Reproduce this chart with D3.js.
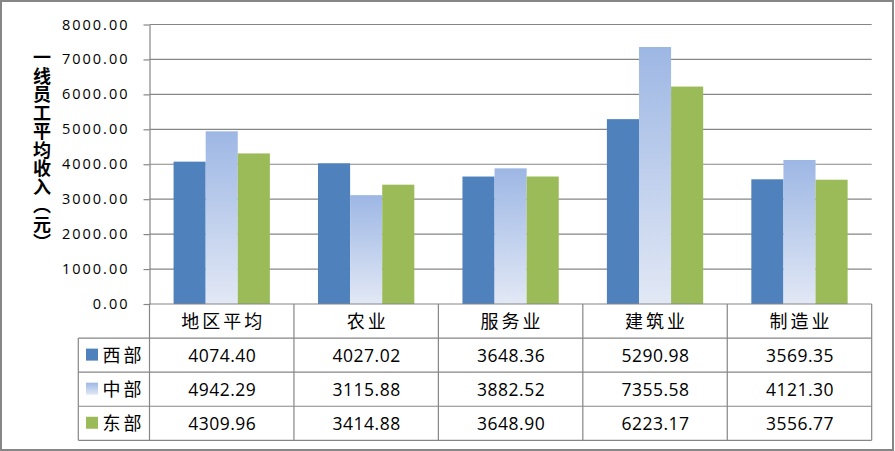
<!DOCTYPE html>
<html>
<head>
<meta charset="utf-8">
<script src="https://cdn.jsdelivr.net/npm/d3@7"></script>
<style>
  html, body { margin: 0; padding: 0; background: #fff; }
  svg { display: block; }
</style>
</head>
<body>
<script>
const categories = ["地区平均", "农业", "服务业", "建筑业", "制造业"];
const seriesNames = ["西部", "中部", "东部"];
const westValues = [4074.40, 4027.02, 3648.36, 5290.98, 3569.35];
const centralValues = [4942.29, 3115.88, 3882.52, 7355.58, 4121.30];
const eastValues = [4309.96, 3414.88, 3648.90, 6223.17, 3556.77];
const yTickValues = [0, 1000, 2000, 3000, 4000, 5000, 6000, 7000, 8000];
const yTitle = "一线员工平均收入（元）";

const seriesValues = [westValues, centralValues, eastValues];
const W = 895, H = 451;
const plotL = 149.5, plotR = 871.7, plotT = 24.5, plotB = 304, tableB = 440.3;
const gray = "#868686";
const numFont = "'Open Sans', 'Liberation Sans', sans-serif";
const cjkFont = "'Noto Sans CJK SC', sans-serif";

const svg = d3.select("body").append("svg").attr("width", W).attr("height", H);

const defs = svg.append("defs");
const grad = defs.append("linearGradient").attr("id", "midGrad")
  .attr("x1", 0).attr("y1", 0).attr("x2", 0).attr("y2", 1);
grad.append("stop").attr("offset", "0%").attr("stop-color", "#9db7e4");
grad.append("stop").attr("offset", "100%").attr("stop-color", "#e2e8f5");
const fills = ["#4f81bd", "url(#midGrad)", "#9bbb59"];

// outer border
svg.append("rect").attr("x", 1).attr("y", 1).attr("width", W - 3).attr("height", H - 2)
  .attr("fill", "#fff").attr("stroke", gray).attr("stroke-width", 2);

const x = d3.scaleBand().domain(categories).range([plotL, plotR]).paddingInner(0).paddingOuter(0);
const bw = x.bandwidth();
const xs = d3.scaleBand().domain(seriesNames).range([bw / 6, bw * 5 / 6]).padding(0);
const y = d3.scaleLinear().domain([0, 8000]).range([plotB, plotT]);

// gridlines
svg.append("g").selectAll("line").data(yTickValues.filter(d => d > 0)).join("line")
  .attr("x1", plotL).attr("x2", plotR)
  .attr("y1", d => y(d)).attr("y2", d => y(d))
  .attr("stroke", gray).attr("stroke-width", 1.2);

// bars
const groups = svg.append("g").selectAll("g").data(seriesNames).join("g");
groups.selectAll("rect")
  .data((s, i) => categories.map((c, j) => ({ c, s, v: seriesValues[i][j], i })))
  .join("rect")
  .attr("x", d => x(d.c) + xs(d.s))
  .attr("width", xs.bandwidth())
  .attr("y", d => y(d.v))
  .attr("height", d => y(0) - y(d.v))
  .attr("fill", d => fills[d.i]);

// y axis
const yAxis = d3.axisLeft(y).tickValues(yTickValues).tickFormat(d3.format(".2f"))
  .tickSize(6).tickSizeOuter(0).tickPadding(14);
const ag = svg.append("g").attr("transform", `translate(${plotL},0)`).call(yAxis);
ag.select(".domain").attr("stroke", gray).attr("stroke-width", 1.2);
ag.selectAll(".tick line").attr("stroke", gray).attr("stroke-width", 1.2);
ag.selectAll(".tick text")
  .attr("font-family", numFont).attr("font-size", "14.5px").attr("fill", "#000")
  .attr("letter-spacing", "2px").attr("dy", null).attr("y", 4.5)
  .attr("dominant-baseline", "auto");

// y title (vertical)
svg.append("text")
  .attr("x", 42).attr("y", 150)
  .attr("text-anchor", "middle")
  .style("writing-mode", "vertical-rl")
  .style("text-orientation", "upright")
  .attr("font-family", cjkFont).attr("font-weight", "bold")
  .attr("font-size", "18px").attr("letter-spacing", "0.5px")
  .attr("fill", "#000")
  .text(yTitle);

// data table
const rowKeys = ["header", ...seriesNames];
const rows = d3.scaleBand().domain(rowKeys).range([plotB, tableB]).padding(0);
const legL = 78.3;
const tg = svg.append("g").attr("stroke", gray).attr("stroke-width", 1.2).attr("fill", "none");
// horizontal lines
tg.append("line").attr("x1", plotL).attr("x2", plotR).attr("y1", plotB).attr("y2", plotB);
seriesNames.forEach(s => {
  tg.append("line").attr("x1", legL).attr("x2", plotR).attr("y1", rows(s)).attr("y2", rows(s));
});
tg.append("line").attr("x1", legL).attr("x2", plotR).attr("y1", tableB).attr("y2", tableB);
// vertical lines
tg.append("line").attr("x1", plotL).attr("x2", plotL).attr("y1", plotB).attr("y2", tableB);
tg.append("line").attr("x1", legL).attr("x2", legL).attr("y1", rows(seriesNames[0])).attr("y2", tableB);
categories.forEach(c => {
  const xr = x(c) + bw;
  tg.append("line").attr("x1", xr).attr("x2", xr).attr("y1", plotB).attr("y2", tableB);
});

// header labels
svg.append("g").selectAll("text").data(categories).join("text")
  .attr("x", d => x(d) + bw / 2 + 1.5)
  .attr("y", rows("header") + rows.bandwidth() / 2 + 6.5)
  .attr("text-anchor", "middle")
  .attr("font-family", cjkFont).attr("font-size", "18px").attr("letter-spacing", "3px")
  .attr("fill", "#000")
  .text(d => d);

// legend cells
const lg = svg.append("g").selectAll("g").data(seriesNames).join("g")
  .attr("transform", s => `translate(0,${rows(s) + rows.bandwidth() / 2})`);
lg.append("rect").attr("x", 86).attr("y", -6.5).attr("width", 12).attr("height", 12)
  .attr("fill", (s, i) => fills[i]);
lg.append("text").attr("x", 102.5).attr("y", 6.5)
  .attr("font-family", cjkFont).attr("font-size", "18px").attr("letter-spacing", "3px")
  .attr("fill", "#000")
  .text(s => s);

// value cells
const vg = svg.append("g");
seriesNames.forEach((s, i) => {
  vg.append("g").selectAll("text").data(categories).join("text")
    .attr("x", c => x(c) + bw / 2 + 0.5)
    .attr("y", rows(s) + rows.bandwidth() / 2 + 6.5)
    .attr("text-anchor", "middle")
    .attr("font-family", numFont).attr("font-size", "17.5px").attr("letter-spacing", "0.5px")
    .attr("fill", "#000")
    .text((c, j) => d3.format(".2f")(seriesValues[i][j]));
});
</script>
</body>
</html>
